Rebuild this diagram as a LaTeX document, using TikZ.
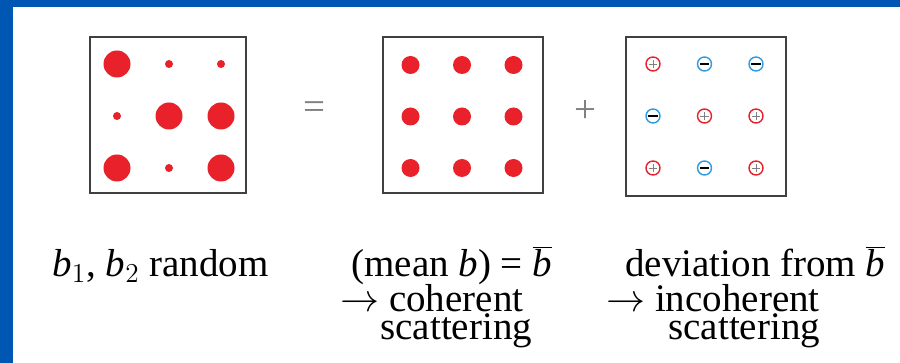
\RequirePackage{fix-cm}
\documentclass[tikz,border=0pt]{standalone}
\usepackage{fontspec}
\setmainfont{Liberation Serif}
\usetikzlibrary{positioning,calc}
\definecolor{slideblue}{HTML}{0057B3}
\definecolor{dotred}{HTML}{E8212B}
\definecolor{chargeblue}{HTML}{2E9BE0}

\begin{document}
\begin{tikzpicture}[
        x=0.5pt, y=-0.5pt,
        panel/.style={
            draw=black!75, line width=1.1pt, fill=white,
            minimum width=78pt, minimum height=78pt, inner sep=0pt
        },
        dot/.style={circle, fill=dotred, inner sep=0pt},
        bigdot/.style={dot, minimum size=13.5pt},
        smalldot/.style={dot, minimum size=4pt},
        meandot/.style={dot, minimum size=9pt},
        charge/.style={circle, draw, line width=0.7pt, fill=white,
            minimum size=7pt, inner sep=0pt},
        plus/.style={charge, draw=dotred, path picture={
            \draw[gray, line width=0.4pt]
                ([xshift=-2.2pt]path picture bounding box.center) --
                ([xshift=2.2pt]path picture bounding box.center);
            \draw[gray, line width=0.4pt]
                ([yshift=-2.2pt]path picture bounding box.center) --
                ([yshift=2.2pt]path picture bounding box.center);}},
        minus/.style={charge, draw=chargeblue, path picture={
            \draw[black, line width=1.4pt]
                ([xshift=-2.3pt]path picture bounding box.center) --
                ([xshift=2.3pt]path picture bounding box.center);}},
        op/.style={text=gray, font=\fontsize{19.5}{23}\selectfont, inner sep=0pt},
        caption/.style={anchor=base west, inner sep=0pt,
            font=\fontsize{19.5}{23}\selectfont}
    ]

    \useasboundingbox (0,0) rectangle (900,363);

    % slide frame
    \fill[slideblue] (0,0) rectangle (900,7);
    \fill[slideblue] (0,0) rectangle (13,363);

    % Panels
    \node[panel] (random) at (168,115) {};
    \node[panel, minimum width=80pt] (mean) at (463,115) {};
    \node[panel, minimum width=80pt, minimum height=79.5pt] (dev) at (706,116.5) {};

    % random b: dot size per site
    \foreach \c/\r/\s [count=\i] in {-1/-1/bigdot, 0/-1/smalldot, 1/-1/smalldot,
                                     -1/0/smalldot, 0/0/bigdot, 1/0/bigdot,
                                     -1/1/bigdot, 0/1/smalldot, 1/1/bigdot}
        \node[\s] (rnd\i) at (169+\c*52, 116+\r*52) {};

    % mean b
    \foreach \c/\r [count=\i] in {-1/-1, 0/-1, 1/-1, -1/0, 0/0, 1/0, -1/1, 0/1, 1/1}
        \node[meandot] (avg\i) at (462+\c*51.5, 116.5+\r*51.5) {};

    % deviations
    \foreach \c/\r/\s [count=\i] in {-1/-1/plus, 0/-1/minus, 1/-1/minus,
                                     -1/0/minus, 0/0/plus, 1/0/plus,
                                     -1/1/plus, 0/1/minus, 1/1/plus}
        \node[\s] (dv\i) at (704.5+\c*51.5, 116+\r*52) {};

    % = and +
    \node[op] (eq) at ($(random.east)!0.5!(mean.west)+(0,-4)$) {=};
    \node[op] (pl) at ($(mean.east)!0.5!(dev.west)+(1,-4)$) {+};

    % Captions
    \node[caption] (cap1) at (52,277) {$\textit{b}_1$, $\textit{b}_2$ random};
    \node[caption] (cap2) at (351,277) {(mean \textit{b}) = $\overline{\textit{b}}$};
    \node[caption] (cap2a) at (340,312) {$\rightarrow$ coherent};
    \node[caption] (cap2b) at (380,340) {scattering};
    \node[caption] (cap3) at (625,277) {deviation from $\overline{\textit{b}}$};
    \node[caption] (cap3a) at (606,312) {$\rightarrow$ incoherent};
    \node[caption] (cap3b) at (668,340) {scattering};

    \end{tikzpicture}
\end{document}
